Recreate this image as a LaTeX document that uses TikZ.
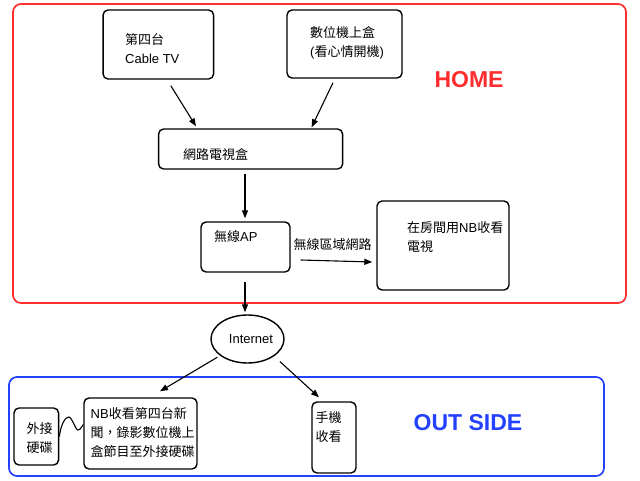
\documentclass[tikz,border=0pt]{standalone}
\usepackage{fontspec}
\setmainfont{Noto Sans CJK TC}
\newfontfamily\lat{Liberation Sans}
\usetikzlibrary{calc,arrows.meta,shapes.geometric}
\definecolor{homered}{RGB}{255,45,45}
\definecolor{outblue}{RGB}{35,65,255}
\tikzset{
	box/.style={draw, line width=1.4pt, rounded corners=5pt},
	frame/.style={line width=1.7pt, rounded corners=8pt},
	txt/.style={inner sep=0pt, align=left, font=\fontsize{13}{19}\selectfont},
	title/.style={inner sep=0pt, font=\lat\bfseries\fontsize{23}{28}\selectfont},
	arr/.style={line width=1.1pt, -{Triangle[length=8pt,width=6pt]}},
}

\begin{document}
\begin{tikzpicture}[x=1pt,y=-1pt]
		%%%%% START %%%%%
		\useasboundingbox (0,0) rectangle (640,480);
		
		\draw[frame, color=homered] (13,4) rectangle (626,303);
		\draw[frame, color=outblue] (9,377) rectangle (604,476);
		\node[title, color=homered] (home) at (469,79.5) {HOME};
		\node[title, color=outblue] (outside) at (468,422.5) {OUT SIDE};
		
		\node[box, minimum width=110.5, minimum height=69] (tv) at (158.3,44.5) {};
		\node[txt, anchor=west] (tvtxt) at (125,48.5) {第四台\\{\lat Cable TV}};
		
		\node[box, minimum width=115, minimum height=68] (stb) at (344.5,44) {};
		\node[txt, anchor=west] (stbtxt) at (310,43) {數位機上盒\\{\lat (}看心情開機{\lat )}};
		
		\node[box, minimum width=184, minimum height=40] (iptv) at (250.6,149) {};
		\node[txt, anchor=west] (iptvtxt) at (183,155) {網路電視盒};
		
		\node[box, minimum width=89, minimum height=50] (ap) at (245.5,247) {};
		\node[txt, anchor=west] (aptxt) at (214,237) {無線{\lat AP}};
		
		\node[box, minimum width=132, minimum height=89] (room) at (443,245.5) {};
		\node[txt, anchor=west] (roomtxt) at (407,237.5) {在房間用{\lat NB}收看\\電視};
		
		\node[draw, ellipse, line width=1.4pt, minimum width=73, minimum height=48, inner sep=0pt, font=\lat\fontsize{13}{16}\selectfont] (inet) at (247.5,339) {\hspace{7pt}Internet};
		
		\node[box, minimum width=44.6, minimum height=57] (disk) at (36.3,436.5) {};
		\node[txt, anchor=west] (disktxt) at (26.5,438) {外接\\硬碟};
		
		\node[box, minimum width=113, minimum height=71] (nbrec) at (140.5,433.5) {};
		\node[txt, anchor=west] (nbrectxt) at (90.5,433) {{\lat NB}收看第四台新\\聞，錄影數位機上\\盒節目至外接硬碟};
		
		\node[box, minimum width=44, minimum height=71] (phone) at (334,437.5) {};
		\node[txt, anchor=west] (phonetxt) at (315.5,427) {手機\\收看};
		
		% connectors
		\draw[arr] ($(tv.south)+(12.5,6)$) -- ($(iptv.north)+(-54.6,-2)$);
		\draw[arr] ($(stb.south)+(-11.5,4)$) -- ($(iptv.north)+(61,-1)$);
		\draw[arr] ($(iptv.south)+(-5.6,4)$) -- ($(ap.north)+(-0.5,-3)$);
		\draw[arr] ($(ap.east)+(10,13)$) -- ($(room.west)+(-4,16.5)$);
		\node[txt] (lan) at (332.5,245) {無線區域網路};
		\draw[arr] ($(ap.south)+(-0.5,9)$) -- ($(inet.north)+(-2.5,-2)$);
		\draw[arr] ($(inet.210)+(-2,2)$) -- ($(nbrec.north)+(19.5,-6)$);
		\draw[arr] ($(inet.south east)+(6,5)$) -- ($(phone.north)+(-15,-4)$);
		
		\draw[line width=1.1pt] (disk.east) .. controls +(2,-14) and +(-3,0) .. ($(disk.east)+(9.5,-19.5)$)
			.. controls +(3,0) and +(-2,0) .. ($(disk.east)+(18.5,-6.5)$)
			.. controls +(3,0) and +(-2,2) .. ($(nbrec.west)+(0,-9)$);
		
		%%%%% END %%%%%
	\end{tikzpicture}
\end{document}
